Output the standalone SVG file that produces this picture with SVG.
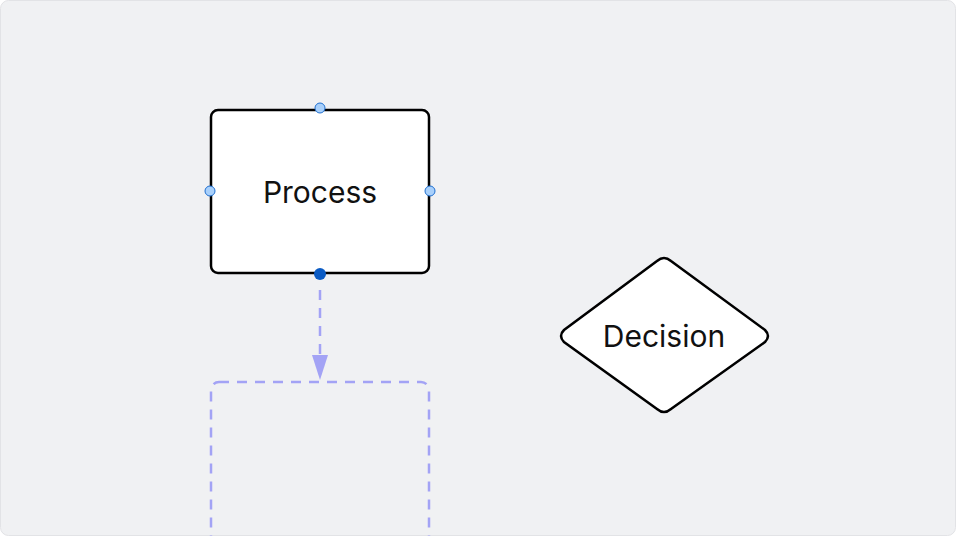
<svg xmlns="http://www.w3.org/2000/svg" width="956" height="536" viewBox="0 0 956 536">
<style>
.node{fill:#fff;stroke:#000;stroke-width:2.5}
.lbl{font-family:Inter,"Liberation Sans",sans-serif;font-size:30px;fill:#111;text-anchor:middle;dominant-baseline:central}
.h{fill:#a8d0fb;stroke:#1f6fd0;stroke-width:1}
.ghost{fill:none;stroke:#a3a3f5;stroke-width:2.5;stroke-dasharray:10 8}
</style>
<rect x="0.5" y="0.5" width="955" height="535" rx="8" fill="#f0f1f3" stroke="#e2e3e6"/>
<g id="connectors"><path d="M320 290V356" class="ghost"/><path d="M312 355L320 380L328 355Z" fill="#a3a3f5"/></g>
<g id="ghost-node"><rect x="211" y="382" width="218" height="170" rx="8" class="ghost"/></g>
<g id="process"><rect x="211" y="110" width="218" height="163" rx="7" class="node"/><text x="320" y="192" class="lbl">Process</text>
<circle cx="320" cy="108" r="5" class="h"/><circle cx="210" cy="191" r="5" class="h"/><circle cx="430" cy="191" r="5" class="h"/><circle cx="320" cy="274" r="6" fill="#0a5bc4"/></g>
<g id="decision"><path d="M657 261Q664 255 671 261L765 330Q771 336 765 342L671 409Q664 415 657 409L564 342Q558 336 564 330Z" class="node"/><text x="664" y="336" class="lbl">Decision</text></g>
</svg>
